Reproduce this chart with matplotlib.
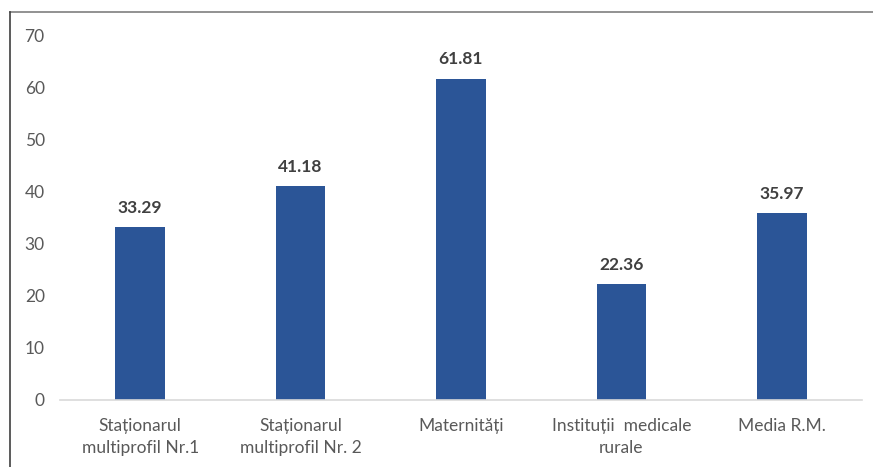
import matplotlib
matplotlib.use('Agg')
import matplotlib.pyplot as plt
from matplotlib.lines import Line2D

categories = ['Staționarul\nmultiprofil Nr.1', 'Staționarul\nmultiprofil Nr. 2',
              'Maternități', 'Instituții  medicale\nrurale', 'Media R.M.']
values = [33.29, 41.18, 61.81, 22.36, 35.97]
yticks = [0, 10, 20, 30, 40, 50, 60, 70]

plt.rcParams['font.family'] = ['Lato', 'DejaVu Sans']

fig = plt.figure(figsize=(8.73, 4.67), dpi=100)
ax = fig.add_axes([60 / 873, 1 - 400 / 467, 802 / 873, 364 / 467])

x = range(len(categories))
bars = ax.bar(x, values, width=0.31, color='#2B5597')
ax.set_xlim(-0.5, len(categories) - 0.5)
ax.set_ylim(0, 70)
ax.set_yticks(yticks)
ax.set_xticks(list(x))
ax.set_xticklabels(categories, fontsize=12.5, color='#595959', linespacing=1.45)
ax.tick_params(axis='both', length=0, labelsize=12.5, labelcolor='#595959')
ax.tick_params(axis='x', pad=13)
ax.tick_params(axis='y', pad=11)
for lab in ax.get_yticklabels():
    lab.set_horizontalalignment('right')

for s in ['top', 'right', 'left']:
    ax.spines[s].set_visible(False)
ax.spines['bottom'].set_color('#D9D9D9')
ax.spines['bottom'].set_linewidth(1.2)

for b, v in zip(bars, values):
    ax.annotate(f'{v:.2f}', (b.get_x() + b.get_width() / 2, v), xytext=(0, 8),
                textcoords='offset points', ha='center', va='bottom',
                fontsize=12.5, fontweight='bold', color='#404040')

# outer frame of the chart area
fig.add_artist(Line2D([10 / 873, 1], [1 - 12 / 467, 1 - 12 / 467], color='#7F7F7F', lw=1.2))
fig.add_artist(Line2D([10 / 873, 10 / 873], [0, 1 - 12 / 467], color='#404040', lw=1.2))

fig.savefig('out.png', dpi=100)
